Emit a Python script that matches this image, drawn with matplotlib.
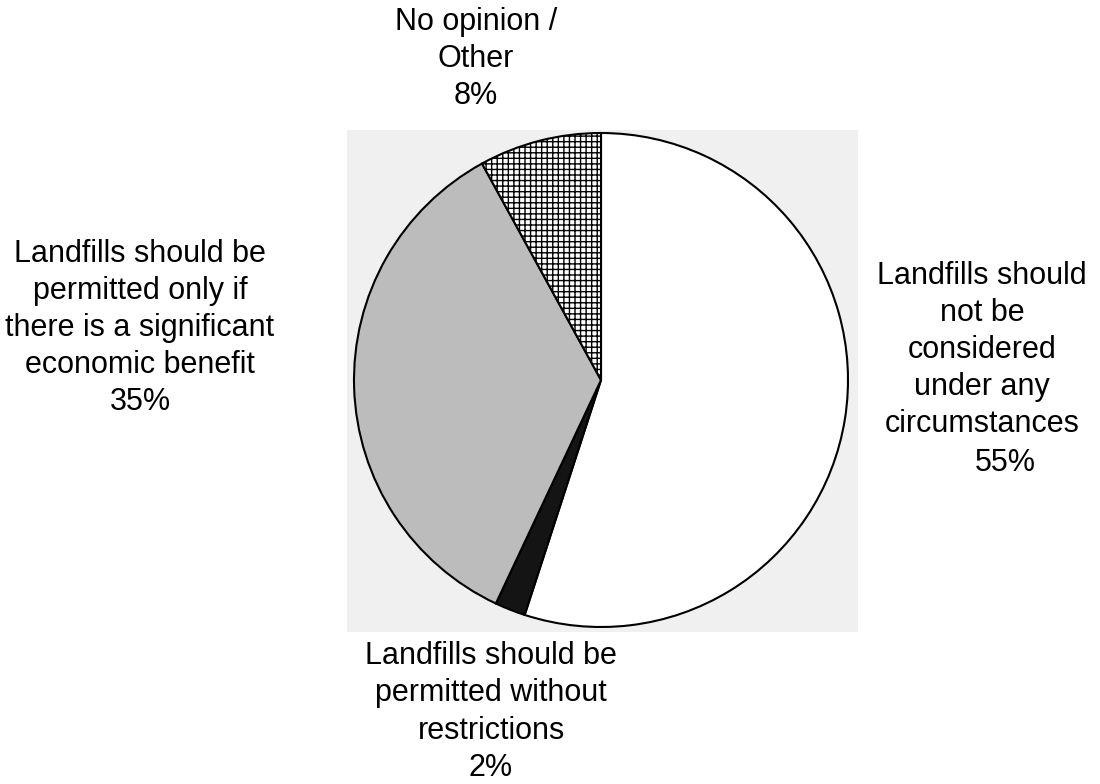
import matplotlib
matplotlib.use("Agg")
import matplotlib.pyplot as plt
from matplotlib.patches import Rectangle

# Data
labels = [
    "Landfills should\nnot be\nconsidered\nunder any\ncircumstances",
    "Landfills should be\npermitted without\nrestrictions\n2%",
    "Landfills should be\npermitted only if\nthere is a significant\neconomic benefit\n35%",
    "No opinion /\nOther\n8%",
]
values = [55, 2, 35, 8]
colors = ["#ffffff", "#141414", "#bcbcbc", "#ffffff"]
hatches = [None, None, None, "+++"]

W, H = 1100, 784
plt.rcParams["font.family"] = ["Liberation Sans", "DejaVu Sans"]
plt.rcParams["hatch.linewidth"] = 1.0

fig = plt.figure(figsize=(W / 100, H / 100), dpi=100)
ax = fig.add_axes([0, 0, 1, 1])
ax.set_xlim(0, W)
ax.set_ylim(0, H)
ax.set_aspect("equal")
ax.axis("off")

# light gray scan background square
ax.add_patch(Rectangle((347, H - 632), 511, 502, facecolor="#f0f0f0", edgecolor="none", zorder=0))

cx, cy, r = 601, H - 380, 247
wedges, _ = ax.pie(values, colors=colors, startangle=90, counterclock=False,
                   center=(cx, cy), radius=r, frame=True,
                   wedgeprops=dict(edgecolor="black", linewidth=1.5))
for w, h in zip(wedges, hatches):
    if h:
        w.set_hatch(h)
ax.set_xlim(0, W)
ax.set_ylim(0, H)
ax.axis("off")

fs = 22
ls = 1.31
ax.text(982, H - 350, labels[0], ha="center", va="center", fontsize=fs, linespacing=ls)
ax.text(1005, H - 463, "55%", ha="center", va="center", fontsize=fs)
ax.text(491, H - 712, labels[1], ha="center", va="center", fontsize=fs, linespacing=ls)
ax.text(140, H - 328, labels[2], ha="center", va="center", fontsize=fs, linespacing=ls)
ax.text(476, H - 59, labels[3], ha="center", va="center", fontsize=fs, linespacing=ls)

fig.savefig("out.png", dpi=100, facecolor="white")
